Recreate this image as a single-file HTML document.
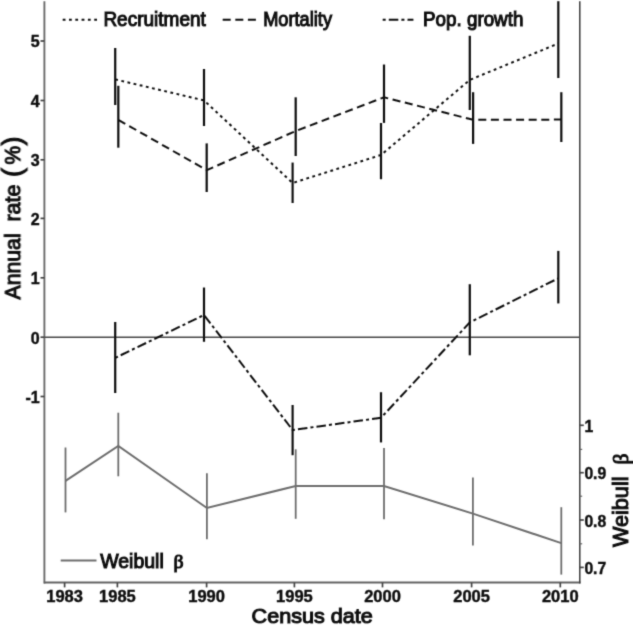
<!DOCTYPE html>
<html><head><meta charset="utf-8"><title>Annual rates by census date</title>
<style>
html,body{margin:0;padding:0;background:#fff;}
svg{display:block;font-family:"Liberation Sans",sans-serif;}
.tk{font-weight:bold;font-size:16px;fill:#111;stroke:#111;stroke-width:0.45px;}
.lg{font-size:19.8px;fill:#111;stroke:#111;stroke-width:1.05px;}
.ax{font-size:21.6px;fill:#111;stroke:#111;stroke-width:1.05px;}
.beta{font-family:"Liberation Serif",serif;font-weight:normal;}
</style></head><body>
<svg width="633" height="625" viewBox="0 0 633 625">
<defs><filter id="soft" x="0" y="0" width="633" height="625" filterUnits="userSpaceOnUse"><feConvolveMatrix order="3" kernelMatrix="0.037 0.19 0.037 0.19 1 0.19 0.037 0.19 0.037" divisor="1.908" edgeMode="duplicate" preserveAlpha="false"/></filter></defs>
<rect width="633" height="625" fill="#fff"/>
<g filter="url(#soft)">
<line x1="44.4" y1="1.2" x2="44.4" y2="583.6" stroke="#6c6c6c" stroke-width="1.9"/>
<line x1="43.8" y1="582.6" x2="580.5" y2="582.6" stroke="#626262" stroke-width="2"/>
<line x1="579.8" y1="1.2" x2="579.8" y2="583.6" stroke="#3c3c3c" stroke-width="1.5"/>
<line x1="44.4" y1="337.2" x2="579.8" y2="337.2" stroke="#484848" stroke-width="1.4"/>
<line x1="40.5" y1="41" x2="44.4" y2="41" stroke="#444" stroke-width="1.7"/>
<text class="tk" x="39.7" y="47.3" text-anchor="end">5</text>
<line x1="40.5" y1="100.5" x2="44.4" y2="100.5" stroke="#444" stroke-width="1.7"/>
<text class="tk" x="39.7" y="106.8" text-anchor="end">4</text>
<line x1="40.5" y1="159.8" x2="44.4" y2="159.8" stroke="#444" stroke-width="1.7"/>
<text class="tk" x="39.7" y="166.10000000000002" text-anchor="end">3</text>
<line x1="40.5" y1="218.4" x2="44.4" y2="218.4" stroke="#444" stroke-width="1.7"/>
<text class="tk" x="39.7" y="224.70000000000002" text-anchor="end">2</text>
<line x1="40.5" y1="277.8" x2="44.4" y2="277.8" stroke="#444" stroke-width="1.7"/>
<text class="tk" x="39.7" y="284.1" text-anchor="end">1</text>
<line x1="40.5" y1="337.2" x2="44.4" y2="337.2" stroke="#444" stroke-width="1.7"/>
<text class="tk" x="39.7" y="343.5" text-anchor="end">0</text>
<line x1="40.5" y1="396.5" x2="44.4" y2="396.5" stroke="#444" stroke-width="1.7"/>
<text class="tk" x="39.7" y="402.8" text-anchor="end">-1</text>
<line x1="64.6" y1="582.6" x2="64.6" y2="587.4" stroke="#444" stroke-width="1.7"/>
<text class="tk" x="64.6" y="601.6" text-anchor="middle" style="font-size:16.5px">1983</text>
<line x1="117.4" y1="582.6" x2="117.4" y2="587.4" stroke="#444" stroke-width="1.7"/>
<text class="tk" x="117.4" y="601.6" text-anchor="middle" style="font-size:16.5px">1985</text>
<line x1="206.6" y1="582.6" x2="206.6" y2="587.4" stroke="#444" stroke-width="1.7"/>
<text class="tk" x="206.6" y="601.6" text-anchor="middle" style="font-size:16.5px">1990</text>
<line x1="294.4" y1="582.6" x2="294.4" y2="587.4" stroke="#444" stroke-width="1.7"/>
<text class="tk" x="294.4" y="601.6" text-anchor="middle" style="font-size:16.5px">1995</text>
<line x1="382.5" y1="582.6" x2="382.5" y2="587.4" stroke="#444" stroke-width="1.7"/>
<text class="tk" x="382.5" y="601.6" text-anchor="middle" style="font-size:16.5px">2000</text>
<line x1="471.6" y1="582.6" x2="471.6" y2="587.4" stroke="#444" stroke-width="1.7"/>
<text class="tk" x="471.6" y="601.6" text-anchor="middle" style="font-size:16.5px">2005</text>
<line x1="560.3" y1="582.6" x2="560.3" y2="587.4" stroke="#444" stroke-width="1.7"/>
<text class="tk" x="560.3" y="601.6" text-anchor="middle" style="font-size:16.5px">2010</text>
<line x1="579.8" y1="425.3" x2="583.8" y2="425.3" stroke="#444" stroke-width="1.7"/>
<text class="tk" x="584.4" y="431.90000000000003" style="font-size:15.7px">1</text>
<line x1="579.8" y1="472.7" x2="583.8" y2="472.7" stroke="#444" stroke-width="1.7"/>
<text class="tk" x="584.4" y="479.3" style="font-size:15.7px">0.9</text>
<line x1="579.8" y1="520" x2="583.8" y2="520" stroke="#444" stroke-width="1.7"/>
<text class="tk" x="584.4" y="526.6" style="font-size:15.7px">0.8</text>
<line x1="579.8" y1="567.4" x2="583.8" y2="567.4" stroke="#444" stroke-width="1.7"/>
<text class="tk" x="584.4" y="574.0" style="font-size:15.7px">0.7</text>
<line x1="579.8" y1="449.4" x2="582.2" y2="449.4" stroke="#666" stroke-width="1.2"/>
<line x1="579.8" y1="496.2" x2="582.2" y2="496.2" stroke="#666" stroke-width="1.2"/>
<line x1="579.8" y1="543.8" x2="582.2" y2="543.8" stroke="#666" stroke-width="1.2"/>
<line x1="65.5" y1="447.5" x2="65.5" y2="512.4" stroke="#6e6e6e" stroke-width="1.8"/>
<line x1="118.3" y1="412.7" x2="118.3" y2="476.3" stroke="#6e6e6e" stroke-width="1.8"/>
<line x1="206.9" y1="473.2" x2="206.9" y2="539.2" stroke="#6e6e6e" stroke-width="1.8"/>
<line x1="295.7" y1="449.3" x2="295.7" y2="518.8" stroke="#6e6e6e" stroke-width="1.8"/>
<line x1="384" y1="448" x2="384" y2="519.3" stroke="#6e6e6e" stroke-width="1.8"/>
<line x1="472.9" y1="477.4" x2="472.9" y2="545.6" stroke="#6e6e6e" stroke-width="1.8"/>
<line x1="561.3" y1="507.2" x2="561.3" y2="574.6" stroke="#6e6e6e" stroke-width="1.8"/>
<polyline points="65.5,480.9 118.3,446 206.9,508 295.7,486 384,486 472.9,513.6 561.3,543.1" fill="none" stroke="#6e6e6e" stroke-width="2"/>
<line x1="115.2" y1="48" x2="115.2" y2="105" stroke="#0e0e0e" stroke-width="2.2"/>
<line x1="204" y1="69" x2="204" y2="126" stroke="#0e0e0e" stroke-width="2.2"/>
<line x1="292.6" y1="162.6" x2="292.6" y2="203" stroke="#0e0e0e" stroke-width="2.2"/>
<line x1="381" y1="123" x2="381" y2="179.2" stroke="#0e0e0e" stroke-width="2.2"/>
<line x1="469.8" y1="35.8" x2="469.8" y2="110" stroke="#0e0e0e" stroke-width="2.2"/>
<line x1="558.3" y1="1.2" x2="558.3" y2="78" stroke="#0e0e0e" stroke-width="2.2"/>
<line x1="118.3" y1="85.8" x2="118.3" y2="147.7" stroke="#0e0e0e" stroke-width="2.2"/>
<line x1="206.7" y1="143.4" x2="206.7" y2="192" stroke="#0e0e0e" stroke-width="2.2"/>
<line x1="295.7" y1="97.3" x2="295.7" y2="156" stroke="#0e0e0e" stroke-width="2.2"/>
<line x1="384" y1="64.5" x2="384" y2="122.9" stroke="#0e0e0e" stroke-width="2.2"/>
<line x1="473.1" y1="92.2" x2="473.1" y2="143.9" stroke="#0e0e0e" stroke-width="2.2"/>
<line x1="561.3" y1="92.2" x2="561.3" y2="142" stroke="#0e0e0e" stroke-width="2.2"/>
<line x1="115.2" y1="322" x2="115.2" y2="393" stroke="#0e0e0e" stroke-width="2.2"/>
<line x1="204" y1="287.5" x2="204" y2="341.8" stroke="#0e0e0e" stroke-width="2.2"/>
<line x1="292.6" y1="405" x2="292.6" y2="455.2" stroke="#0e0e0e" stroke-width="2.2"/>
<line x1="381" y1="392.2" x2="381" y2="442.4" stroke="#0e0e0e" stroke-width="2.2"/>
<line x1="469.8" y1="284.2" x2="469.8" y2="355.3" stroke="#0e0e0e" stroke-width="2.2"/>
<line x1="558.3" y1="250.9" x2="558.3" y2="303.4" stroke="#0e0e0e" stroke-width="2.2"/>
<polyline points="115.2,79.4 204,100.4 292.6,183 381,155 469.8,79.9 558.3,43.5" fill="none" stroke="#0e0e0e" stroke-width="2.0" stroke-dasharray="2.8 3.5"/>
<polyline points="118.3,119.8 206.7,170.2 295.7,131 384,97.3 473.1,119.8 561.3,119.6" fill="none" stroke="#0e0e0e" stroke-width="2.0" stroke-dasharray="8 4.6"/>
<polyline points="115.2,357.9 204,315 292.6,430 381,417.8 469.8,322.4 558.3,278.3" fill="none" stroke="#0e0e0e" stroke-width="2.0" stroke-dasharray="3 3.1 9.5 3.1"/>
<line x1="62.7" y1="19.7" x2="98.5" y2="19.7" stroke="#0e0e0e" stroke-width="2.0" stroke-dasharray="2.8 3.5"/>
<text class="lg" x="103.4" y="26.3" textLength="102.4" lengthAdjust="spacingAndGlyphs">Recruitment</text>
<line x1="222.7" y1="19.7" x2="256" y2="19.7" stroke="#0e0e0e" stroke-width="2.0" stroke-dasharray="8 4.6"/>
<text class="lg" x="263.2" y="26.3" textLength="68.8" lengthAdjust="spacingAndGlyphs">Mortality</text>
<line x1="382.7" y1="19.7" x2="413.4" y2="19.7" stroke="#0e0e0e" stroke-width="2.0" stroke-dasharray="3 3.1 9.5 3.1"/>
<text class="lg" x="423" y="26.3" textLength="100.4" lengthAdjust="spacingAndGlyphs">Pop. growth</text>
<line x1="60.7" y1="560.4" x2="96.5" y2="560.4" stroke="#6e6e6e" stroke-width="2"/>
<text class="lg" x="100.2" y="567.7" textLength="63.6" lengthAdjust="spacingAndGlyphs">Weibull</text>
<text class="lg beta" x="173.6" y="567.7">β</text>
<g transform="translate(20.2,0) rotate(-90)">
<text class="ax" x="-299.4" y="0" textLength="66" lengthAdjust="spacingAndGlyphs">Annual</text>
<text class="ax" x="-221.6" y="0" textLength="37.2" lengthAdjust="spacingAndGlyphs">rate</text>
<text class="ax" x="-177" y="1.2" style="font-size:27px">(</text>
<text class="ax" x="-164.6" y="0" textLength="18.6" lengthAdjust="spacingAndGlyphs">%</text>
<text class="ax" x="-145.4" y="1.2" style="font-size:27px">)</text>
</g>
<g transform="translate(628,0) rotate(-90)">
<text class="ax" x="-547" y="0" textLength="70.5" lengthAdjust="spacingAndGlyphs">Weibull</text>
<text class="ax beta" x="-464.6" y="0">β</text>
</g>
<text class="ax" x="251.6" y="623.3" textLength="121.2" lengthAdjust="spacingAndGlyphs" style="font-size:20.6px">Census date</text>
</g></svg></body></html>
